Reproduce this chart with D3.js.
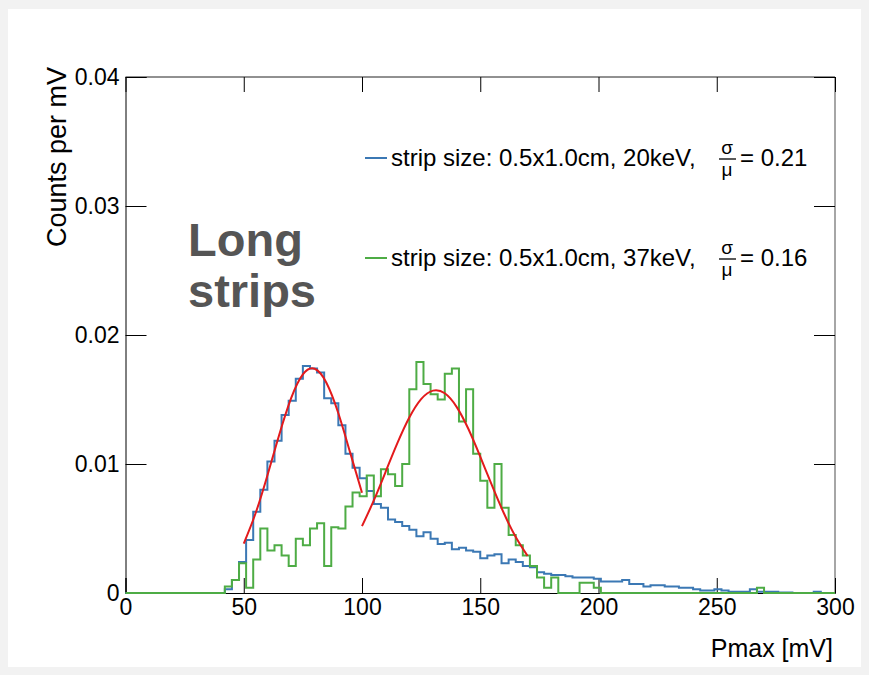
<!DOCTYPE html>
<html>
<head>
<meta charset="utf-8">
<script src="https://cdn.jsdelivr.net/npm/d3@7"></script>
<style>
  html, body { margin: 0; padding: 0; background: #f2f2f2; }
  svg { display: block; font-family: "Liberation Sans", Arial, Helvetica, sans-serif; }
</style>
</head>
<body>
<script>
// Histogram binning: 100 bins of 3 mV covering 0–300 mV
const binWidth = 3;
const binStarts = d3.range(0, 300, binWidth);

// Counts per mV, 20 keV source
const counts20keV = [
  0, 0, 0, 0, 0, 0, 0, 0, 0, 0,
  0, 0, 0, 0, 0.0003, 0.0010, 0.0024, 0.0041, 0.0063, 0.0080,
  0.0102, 0.0118, 0.0138, 0.0149, 0.0166, 0.0176, 0.0174, 0.0171, 0.0151, 0.0147,
  0.0130, 0.0108, 0.0097, 0.0089, 0.0079, 0.0069, 0.0066, 0.0057, 0.0055, 0.0052,
  0.0049, 0.0044, 0.0047, 0.0042, 0.0038, 0.0039, 0.0034, 0.0035, 0.0033, 0.0032,
  0.0027, 0.0029, 0.0030, 0.0023, 0.0026, 0.0024, 0.0021, 0.0020, 0.0016, 0.0015,
  0.0014, 0.0014, 0.0013, 0.0012, 0.0012, 0.0012, 0.0011, 0.0009, 0.0009, 0.0009,
  0.0010, 0.0007, 0.0007, 0.0005, 0.0006, 0.0006, 0.0005, 0.0005, 0.0004, 0.0004,
  0.0003, 0.0002, 0.0002, 0.0003, 0.0002, 0.0001, 0.0001, 0.0001, 0.0003, 0.0001,
  0.0001, 0.0001, 0.00003, 0.00003, 0, 0, 0, 0.0001, 0, 0
];

// Counts per mV, 37 keV source
const counts37keV = [
  0, 0, 0, 0, 0, 0, 0, 0, 0, 0,
  0, 0, 0, 0, 0.0005, 0.0010, 0.0023, 0.0004, 0.0026, 0.0050,
  0.0033, 0.0037, 0.0029, 0.0021, 0.0042, 0.0037, 0.0050, 0.0054, 0.0021, 0.0051,
  0.0050, 0.0067, 0.0078, 0.0075, 0.0091, 0.0075, 0.0096, 0.0092, 0.0083, 0.0100,
  0.0158, 0.0179, 0.0162, 0.0154, 0.0150, 0.0170, 0.0174, 0.0133, 0.0158, 0.0108,
  0.0087, 0.0066, 0.0100, 0.0066, 0.0045, 0.0037, 0.0029, 0.0021, 0.0012, 0.0004,
  0.0012, 0, 0, 0, 0.0008, 0.0008, 0.0004, 0, 0, 0,
  0, 0, 0, 0, 0, 0, 0, 0, 0, 0,
  0, 0, 0, 0, 0, 0, 0, 0, 0, 0.0004,
  0, 0, 0, 0, 0, 0, 0, 0, 0, 0
];

// Gaussian fit curves, sampled every 5 mV over the fit ranges
const fit20keVx = [50, 55, 60, 65, 70, 75, 80, 85, 90, 95, 100];
const fit20keVy = [0.00383, 0.00618, 0.00911, 0.01227, 0.01509, 0.01695, 0.01738, 0.01628, 0.01393, 0.01088, 0.00777];
const fit37keVx = [100, 105, 110, 115, 120, 125, 130, 135, 140, 145, 150, 155, 160, 165, 170];
const fit37keVy = [0.00518, 0.00718, 0.00940, 0.01163, 0.01360, 0.01503, 0.01569, 0.01548, 0.01443, 0.01271, 0.01057, 0.00832, 0.00618, 0.00434, 0.00288];

// Axis ticks and labels
const xMajorTicks = [0, 50, 100, 150, 200, 250, 300];
const xMinorTicks = d3.range(0, 301, 10);
const yMajorTicks = [0, 0.01, 0.02, 0.03, 0.04];
const yMinorTicks = d3.range(0, 0.04001, 0.002);
const yTickLabels = ["0", "0.01", "0.02", "0.03", "0.04"];

// Legend entries
const legendLabels = ["strip size: 0.5x1.0cm, 20keV,", "strip size: 0.5x1.0cm, 37keV,"];
const legendRatios = ["= 0.21", "= 0.16"];
const seriesColors = ["#3b78b4", "#4eac45"];
const fitColor = "#e31a1c";

const W = 869, H = 675;
const svg = d3.select("body").append("svg").attr("width", W).attr("height", H);

svg.append("rect").attr("width", W).attr("height", H).attr("fill", "#f2f2f2");
svg.append("rect").attr("x", 8).attr("y", 9).attr("width", 853).attr("height", 658).attr("fill", "#ffffff");

const x = d3.scaleLinear().domain([0, 300]).range([125.5, 835]);
const y = d3.scaleLinear().domain([0, 0.04]).range([593, 77]);

const tickFont = 23;

// Frame: top and right
svg.append("line").attr("x1", x(0)).attr("x2", x(300)).attr("y1", y(0.04)).attr("y2", y(0.04))
  .attr("stroke", "#222").attr("stroke-width", 1);
svg.append("line").attr("x1", x(300)).attr("x2", x(300)).attr("y1", y(0.04)).attr("y2", y(0))
  .attr("stroke", "#888").attr("stroke-width", 1.5);

// Bottom axis
const gx = svg.append("g").attr("transform", `translate(0,${y(0)})`);
gx.call(d3.axisBottom(x).tickValues(xMinorTicks).tickSize(-7.5).tickFormat(""));
gx.call(d3.axisBottom(x).tickValues(xMajorTicks).tickSize(-15).tickPadding(6).tickFormat(d3.format("d")));
gx.selectAll(".domain").attr("stroke", "#000");
gx.selectAll("line").attr("stroke", "#000");
gx.selectAll("text").attr("font-size", tickFont).attr("font-family", "Liberation Sans, Arial, sans-serif").attr("fill", "#000");

// Top axis ticks
const gxt = svg.append("g").attr("transform", `translate(0,${y(0.04)})`);
gxt.call(d3.axisTop(x).tickValues(xMinorTicks).tickSize(-7.5).tickFormat(""));
gxt.call(d3.axisTop(x).tickValues(xMajorTicks).tickSize(-15).tickFormat(""));
gxt.selectAll(".domain").remove();
gxt.selectAll("line").attr("stroke", "#000");

// Left axis
const gy = svg.append("g").attr("transform", `translate(${x(0)},0)`);
gy.call(d3.axisLeft(y).tickValues(yMinorTicks).tickSize(-10.5).tickFormat(""));
gy.call(d3.axisLeft(y).tickValues(yMajorTicks).tickSize(-21).tickPadding(6)
  .tickFormat((d, i) => yTickLabels[i]));
gy.selectAll(".domain").attr("stroke", "#000");
gy.selectAll("line").attr("stroke", "#000");
gy.selectAll("text").attr("font-size", tickFont).attr("font-family", "Liberation Sans, Arial, sans-serif").attr("fill", "#000");

// Right axis ticks
const gyr = svg.append("g").attr("transform", `translate(${x(300)},0)`);
gyr.call(d3.axisRight(y).tickValues(yMinorTicks).tickSize(-10.5).tickFormat(""));
gyr.call(d3.axisRight(y).tickValues(yMajorTicks).tickSize(-21).tickFormat(""));
gyr.selectAll(".domain").remove();
gyr.selectAll("line").attr("stroke", "#000");

// Step histograms
const stepLine = d3.line().x(d => x(d[0])).y(d => y(d[1])).curve(d3.curveStepAfter);
function histPoints(values) {
  const pts = binStarts.map((b, i) => [b, values[i]]);
  pts.push([300, values[values.length - 1]]);
  return pts;
}
[counts20keV, counts37keV].forEach((vals, i) => {
  svg.append("path").datum(histPoints(vals)).attr("d", stepLine)
    .attr("fill", "none").attr("stroke", seriesColors[i]).attr("stroke-width", 2);
});

// Fit curves
const fitLine = d3.line().x(d => x(d[0])).y(d => y(d[1])).curve(d3.curveNatural);
[[fit20keVx, fit20keVy], [fit37keVx, fit37keVy]].forEach(([fx, fy]) => {
  svg.append("path").datum(fx.map((v, i) => [v, fy[i]])).attr("d", fitLine)
    .attr("fill", "none").attr("stroke", fitColor).attr("stroke-width", 2);
});

// Axis titles
svg.append("text").attr("x", 833).attr("y", 657).attr("text-anchor", "end")
  .attr("font-size", 25).text("Pmax [mV]");
svg.append("text").attr("transform", `translate(66,${y(0.04) - 10}) rotate(-90)`)
  .attr("text-anchor", "end").attr("font-size", 27).text("Counts per mV");

// Annotation
const note = svg.append("text").attr("x", 188).attr("font-size", 47).attr("font-weight", "bold").attr("fill", "#555");
note.append("tspan").attr("x", 188).attr("y", 256).text("Long");
note.append("tspan").attr("x", 188).attr("y", 307).text("strips");

// Legend
const legendY = [158, 258];
legendLabels.forEach((lab, i) => {
  const ly = legendY[i];
  svg.append("line").attr("x1", 365).attr("x2", 387).attr("y1", ly).attr("y2", ly)
    .attr("stroke", seriesColors[i]).attr("stroke-width", 2);
  svg.append("text").attr("x", 391).attr("y", ly + 8).attr("font-size", 24).text(lab);
  // sigma over mu as a stacked fraction
  svg.append("text").attr("x", 727).attr("y", ly - 4).attr("text-anchor", "middle")
    .attr("font-size", 19).text("σ");
  svg.append("line").attr("x1", 719).attr("x2", 736).attr("y1", ly + 1).attr("y2", ly + 1)
    .attr("stroke", "#000").attr("stroke-width", 1.3);
  svg.append("text").attr("x", 727).attr("y", ly + 18).attr("text-anchor", "middle")
    .attr("font-size", 19).text("μ");
  svg.append("text").attr("x", 740).attr("y", ly + 8).attr("font-size", 24).text(legendRatios[i]);
});
</script>
</body>
</html>
